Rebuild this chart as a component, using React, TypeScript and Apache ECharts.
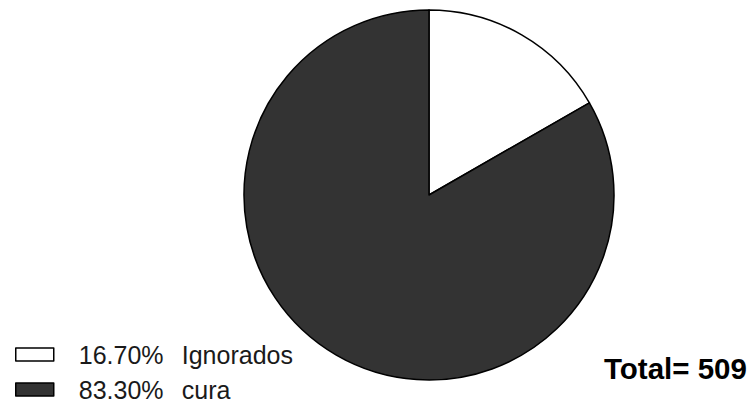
import React, { useEffect, useRef } from "react";
import * as echarts from "echarts";

const categories = ["Ignorados", "cura"];
const counts = [85, 424];
const percents = ["16.70", "83.30"];
const colors = ["#ffffff", "#333333"];
const totalLabel = "Total= 509";

export default function App() {
  const ref = useRef<HTMLDivElement>(null);

  useEffect(() => {
    if (!ref.current) return;
    const chart = echarts.init(ref.current, null, { renderer: "svg" });
    const font = "'Liberation Sans', Arial, sans-serif";

    chart.setOption({
      animation: false,
      backgroundColor: "#ffffff",
      title: {
        text: totalLabel,
        left: 604,
        top: 353,
        padding: 0,
        textStyle: { fontFamily: font, fontSize: 29.5, fontWeight: "bold", color: "#000000" },
      },
      legend: {
        orient: "vertical",
        left: 15,
        top: 342,
        padding: 0,
        itemWidth: 38,
        itemHeight: 13,
        itemGap: 10,
        selectedMode: false,
        data: categories.map((c, i) => ({
          name: c,
          icon: "rect",
          itemStyle: { color: colors[i], borderColor: "#000000", borderWidth: 1.5 },
        })),
        formatter: (name: string) => {
          const i = categories.indexOf(name);
          return `{p|${percents[i]}%}{n|${name}}`;
        },
        textStyle: {
          fontFamily: font,
          fontSize: 25,
          color: "#1a1a1a",
          padding: [0, 0, 0, 20],
          rich: {
            p: { fontFamily: font, fontSize: 25, color: "#1a1a1a", width: 103 },
            n: { fontFamily: font, fontSize: 25, color: "#1a1a1a" },
          },
        },
      },
      series: [
        {
          type: "pie",
          center: [429, 195],
          radius: 185,
          startAngle: 90,
          clockwise: true,
          label: { show: false },
          labelLine: { show: false },
          emphasis: { disabled: true },
          itemStyle: { borderColor: "#000000", borderWidth: 1.5 },
          data: categories.map((c, i) => ({
            name: c,
            value: counts[i],
            itemStyle: { color: colors[i] },
          })),
        },
      ],
    });

    return () => chart.dispose();
  }, []);

  return (
    <div
      ref={ref}
      style={{ position: "fixed", left: 0, top: 0, width: 753, height: 403 }}
    />
  );
}
